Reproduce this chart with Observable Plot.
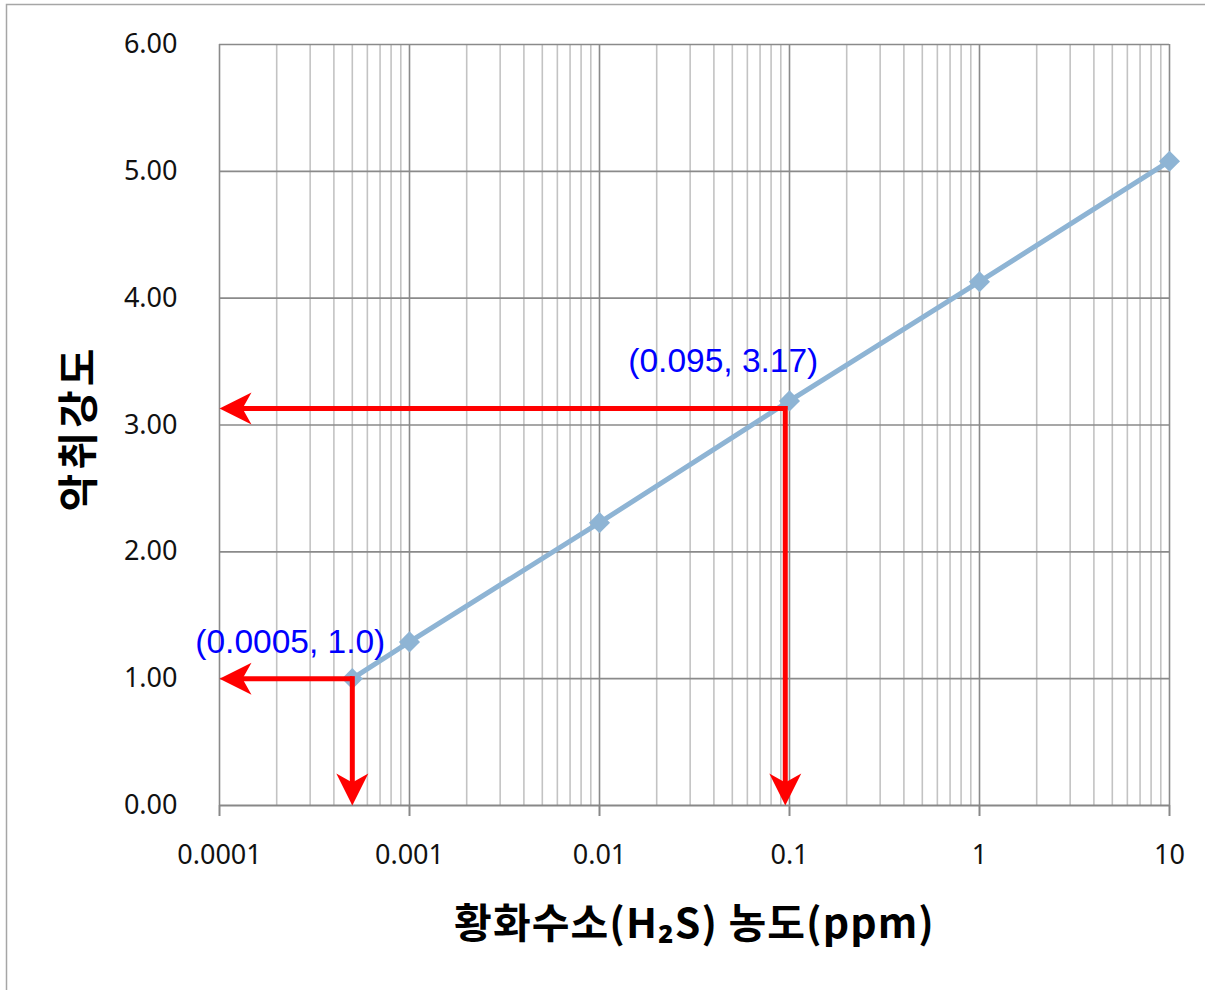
<!DOCTYPE html>
<html>
<head>
<meta charset="utf-8">
<script src="https://cdn.jsdelivr.net/npm/d3@7"></script>
<script src="https://cdn.jsdelivr.net/npm/@observablehq/plot@0.6"></script>
<style>
  html, body { margin: 0; padding: 0; background: #fff; }
  #chart { position: relative; width: 1205px; height: 990px; }
  #chart svg { display: block; }
</style>
</head>
<body>
<div id="chart"></div>
<script>
// ---- data ----
const concentration = [0.0005, 0.001, 0.01, 0.1, 1, 10];
const intensity = [1.0, 1.29, 2.23, 3.19, 4.13, 5.08];

const xTicks = [0.0001, 0.001, 0.01, 0.1, 1, 10];
const xTickLabels = ["0.0001", "0.001", "0.01", "0.1", "1", "10"];
const minorMultipliers = [2, 3, 4, 5, 6, 7, 8, 9];
const yTicks = [0, 1, 2, 3, 4, 5, 6];
const yTickLabels = ["0.00", "1.00", "2.00", "3.00", "4.00", "5.00", "6.00"];

const markerX = [0.0005, 0.095];
const markerY = [1.0, 3.13];
const markerLabels = ["(0.0005, 1.0)", "(0.095, 3.17)"];

const xTitle = "황화수소(H₂S) 농도(ppm)";
const yTitle = "악취강도";

// ---- derived tables ----
const points = concentration.map((x, i) => ({x, y: intensity[i]}));
const minorGrid = xTicks.slice(0, -1).flatMap(d => minorMultipliers.map(m => d * m));
const xMin = xTicks[0];
const yMin = yTicks[0];
const hArrows = markerX.map((x, i) => ({x1: x, y1: markerY[i], x2: xMin, y2: markerY[i]}));
const vArrows = markerX.map((x, i) => ({x1: x, y1: markerY[i], x2: x, y2: yMin}));
const labels = markerX.map((x, i) => ({x, y: markerY[i], text: markerLabels[i]}));

// arrowhead symbols (tip at origin)
const arrowLeft = {draw(ctx) {
  ctx.moveTo(0, 0); ctx.lineTo(32, -16); ctx.lineTo(23, 0); ctx.lineTo(32, 16); ctx.closePath();
}};
const arrowDown = {draw(ctx) {
  ctx.moveTo(0, 0); ctx.lineTo(-16, -32); ctx.lineTo(0, -23); ctx.lineTo(16, -32); ctx.closePath();
}};

const labelFont = "'Liberation Sans', Arial, sans-serif";
const titleFont = "'Noto Sans CJK KR', 'Noto Sans', sans-serif";

const chart = Plot.plot({
  width: 1205,
  height: 990,
  marginLeft: 219,
  marginRight: 36,
  marginTop: 44,
  marginBottom: 185,
  style: {fontFamily: "'Noto Sans', sans-serif", fontSize: "27px", color: "#111", background: "#fff"},
  x: {type: "log", domain: [0.0001, 10], axis: null},
  y: {domain: [0, 6], axis: null},
  marks: [
    Plot.ruleX(minorGrid, {stroke: "#c3c3c3", strokeWidth: 1.6}),
    Plot.ruleX(xTicks, {stroke: "#8a8a8a", strokeWidth: 1.6}),
    Plot.ruleY(yTicks.slice(1), {stroke: "#8a8a8a", strokeWidth: 1.6}),
    Plot.ruleY([0], {stroke: "#888", strokeWidth: 2}),
    Plot.axisX({ticks: xTicks, tickFormat: d => xTickLabels[xTicks.indexOf(d)], tickSize: 11, tickPadding: 28,
      stroke: "#888", strokeWidth: 2, fill: "#111", fontSize: 27, label: null}),
    Plot.axisY({ticks: yTicks, tickFormat: d => yTickLabels[yTicks.indexOf(d)], tickSize: 0, tickPadding: 42,
      fill: "#111", fontSize: 27, label: null}),
    Plot.line(points, {x: "x", y: "y", stroke: "#8eb4d4", strokeWidth: 5}),
    Plot.dot(points, {x: "x", y: "y", symbol: "diamond2", r: 9.5, fill: "#8eb4d4", stroke: "none"}),
    Plot.arrow(hArrows, {x1: "x1", y1: "y1", x2: "x2", y2: "y2", stroke: "#ff0000", strokeWidth: 5,
      headLength: 0, insetEnd: 20, insetStart: 0, strokeLinecap: "butt"}),
    Plot.arrow(vArrows, {x1: "x1", y1: "y1", x2: "x2", y2: "y2", stroke: "#ff0000", strokeWidth: 5,
      headLength: 0, insetEnd: 20, insetStart: -2.5, strokeLinecap: "butt"}),
    Plot.dot(hArrows, {x: "x2", y: "y2", symbol: arrowLeft, fill: "#ff0000", stroke: "none"}),
    Plot.dot(vArrows, {x: "x2", y: "y2", symbol: arrowDown, fill: "#ff0000", stroke: "none"}),
    Plot.text(labels.slice(0, 1), {x: "x", y: "y", text: "text", dx: -62, dy: -36, fill: "#0000ff",
      fontFamily: labelFont, fontSize: 33.5, textAnchor: "middle"}),
    Plot.text(labels.slice(1), {x: "x", y: "y", text: "text", dx: -62, dy: -47, fill: "#0000ff",
      fontFamily: labelFont, fontSize: 33.5, textAnchor: "middle"}),
    Plot.text([xTitle], {frameAnchor: "bottom", textAnchor: "middle", dx: 0, dy: 132, text: d => d, fontSize: 41,
      fontWeight: "bold", fill: "#000", fontFamily: titleFont}),
    Plot.text([yTitle], {frameAnchor: "left", textAnchor: "middle", dx: -140, dy: 3, rotate: -90, text: d => d,
      fontSize: 41, fontWeight: "bold", fill: "#000", fontFamily: titleFont})
  ]
});

const svg = d3.select(chart);
// letter spacing for the axis titles (Plot's text mark has no letterSpacing option)
svg.selectAll("text").filter(function() { return this.textContent === yTitle; })
  .style("letter-spacing", "4px");
svg.selectAll("text").filter(function() { return this.textContent === xTitle; })
  .style("letter-spacing", "1.1px");

// outer chart-area border (top and left edges visible)
svg.insert("path", ":first-child")
  .attr("d", "M6.5,990 V4.5 H1205")
  .attr("fill", "none").attr("stroke", "#a6a6a6").attr("stroke-width", 1.5);

document.getElementById("chart").appendChild(chart);
</script>
</body>
</html>
